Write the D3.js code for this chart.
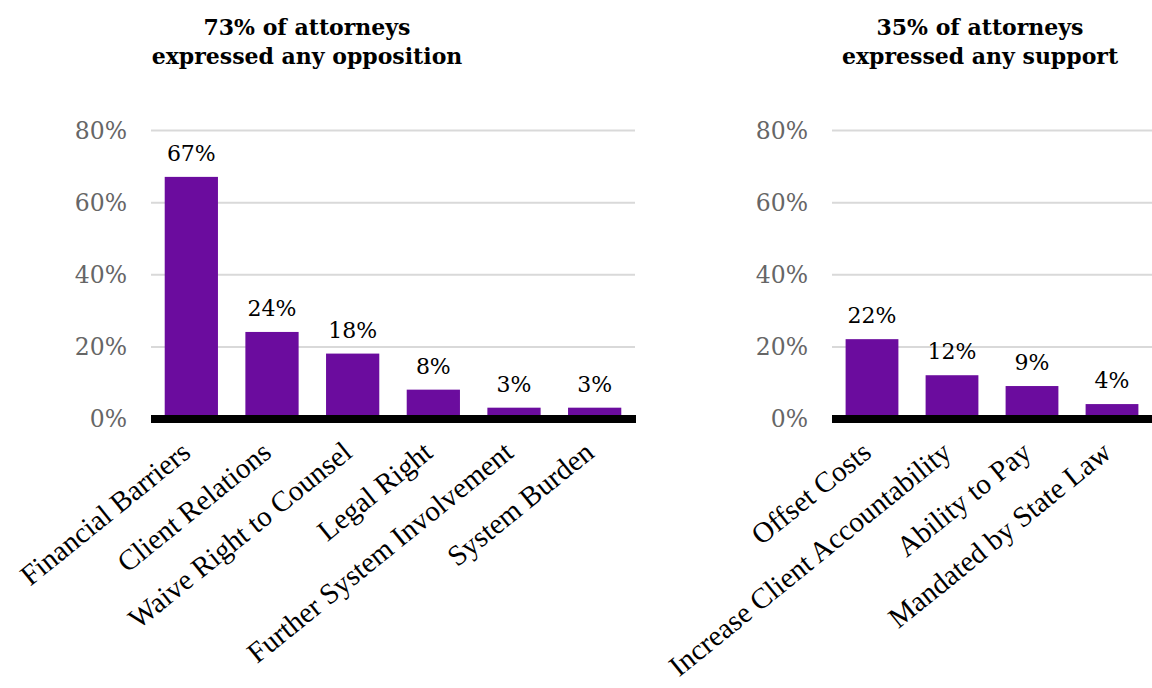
<!DOCTYPE html>
<html>
<head>
<meta charset="utf-8">
<script src="https://cdn.jsdelivr.net/npm/d3@7"></script>
<style>
  body { margin: 0; background: #fff; }
  svg { display: block; }
  .titulo { font-family: 'DejaVu Serif', Georgia, serif; font-weight: bold; font-size: 22px; fill: #000; }
  .tick text.yLab { font-family: 'DejaVu Serif', Georgia, serif; font-size: 23.5px; fill: #666; }
  .valor { font-family: 'DejaVu Serif', Georgia, serif; font-size: 22px; fill: #000; }
  .cat { font-family: 'Liberation Serif', 'Times New Roman', serif; font-size: 29px; fill: #000; }
</style>
</head>
<body>
<svg width="1152" height="688"></svg>
<script>
// datos
const oposicionCats = ['Financial Barriers', 'Client Relations', 'Waive Right to Counsel', 'Legal Right', 'Further System Involvement', 'System Burden'];
const oposicionVals = [67, 24, 18, 8, 3, 3];
const apoyoCats = ['Offset Costs', 'Increase Client Accountability', 'Ability to Pay', 'Mandated by State Law'];
const apoyoVals = [22, 12, 9, 4];
const yTicks = [0, 20, 40, 60, 80];
const titulos = [['73% of attorneys', 'expressed any opposition'], ['35% of attorneys', 'expressed any support']];

const svg = d3.select('svg');
const morado = '#6b0c9e';

const yScale = d3.scaleLinear().domain([0, 80]).range([418.5, 130]);

const render = (cats, vals, x0, x1, titulo, tituloX) => {
    const xScale = d3.scaleBand()
        .domain(cats)
        .range([x0, x1])
        .paddingInner(0.34)
        .paddingOuter(0.17);

    const g = svg.append('g');

    // ejes y lineas guia
    const yEje = g.append('g')
        .attr('transform', `translate(${x0},0)`)
        .call(d3.axisLeft(yScale).tickValues(yTicks).tickFormat(d => d + '%')
            .tickSize(-(x1 - x0)).tickPadding(24));
    yEje.select('.domain').remove();
    yEje.selectAll('.tick line').attr('stroke', '#d9d9d9').attr('stroke-width', 2);
    yEje.selectAll('.tick text').attr('class', 'yLab').attr('dy', '0.35em');

    // barras
    g.selectAll('rect.bar').data(vals).enter().append('rect')
        .attr('class', 'bar')
        .attr('x', (d, i) => xScale(cats[i]))
        .attr('y', d => yScale(d))
        .attr('width', xScale.bandwidth())
        .attr('height', d => yScale(0) - yScale(d))
        .attr('fill', morado);

    // etiquetas de valor
    g.selectAll('text.valor').data(vals).enter().append('text')
        .attr('class', 'valor')
        .attr('text-anchor', 'middle')
        .attr('x', (d, i) => xScale(cats[i]) + xScale.bandwidth() / 2)
        .attr('y', d => yScale(d) - 16)
        .text(d => d + '%');

    // eje x
    const xEje = g.append('g')
        .attr('transform', `translate(0,${yScale(0)})`)
        .call(d3.axisBottom(xScale).tickSize(0));
    xEje.select('.domain').remove();
    xEje.selectAll('.tick text')
        .attr('class', 'cat')
        .attr('x', 0).attr('y', 0).attr('dy', 0)
        .attr('text-anchor', 'end')
        .attr('transform', 'translate(1,37) rotate(-39)');

    g.append('line')
        .attr('x1', x0).attr('x2', x1 + 1)
        .attr('y1', yScale(0) + 0.5).attr('y2', yScale(0) + 0.5)
        .attr('stroke', '#000').attr('stroke-width', 8);

    // titulo
    const t = g.append('text').attr('class', 'titulo').attr('text-anchor', 'middle');
    titulo.forEach((linea, i) => {
        t.append('tspan').attr('x', tituloX).attr('y', 35 + i * 29).text(linea);
    });
};

render(oposicionCats, oposicionVals, 151, 635, titulos[0], 307);
render(apoyoCats, apoyoVals, 832, 1152, titulos[1], 980);
</script>
</body>
</html>
